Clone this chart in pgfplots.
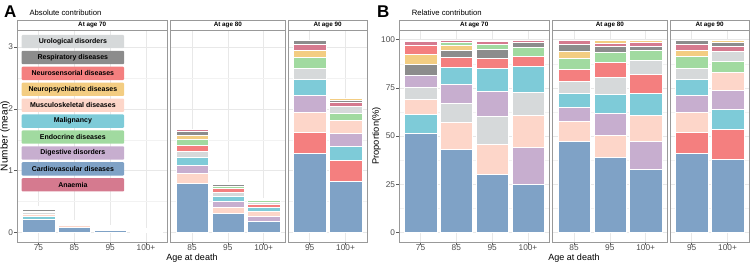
\documentclass[border=0pt]{standalone}
\usepackage{pgfplots}
\pgfplotsset{compat=1.18}
\usepackage{fontspec}
\setmainfont{Liberation Sans}

\definecolor{cAna}{HTML}{D57A8F}
\definecolor{cCar}{HTML}{7FA2C6}
\definecolor{cDig}{HTML}{C7AECF}
\definecolor{cEnd}{HTML}{A1DAA0}
\definecolor{cMal}{HTML}{7ECBD8}
\definecolor{cMus}{HTML}{FDD6C9}
\definecolor{cNps}{HTML}{F3CD82}
\definecolor{cNse}{HTML}{F47F7F}
\definecolor{cRes}{HTML}{8C8C8C}
\definecolor{cUro}{HTML}{D6D9DA}

% one stacked segment: x, cumulative top, colour (drawn from the top segment down)
\newcommand{\sg}[3]{\addplot[ybar, bar width=0.9, bar shift=0pt, fill=#3, draw=white, line width=0.2pt] coordinates {(#1,#2)};}
% same, for the very short bars (hairline outline)
\newcommand{\sgt}[3]{\addplot[ybar, bar width=0.9, bar shift=0pt, fill=#3, draw=white, line width=0.05pt] coordinates {(#1,#2)};}

\tikzset{
  leg/.style={minimum width=102.5pt, minimum height=13.3pt, inner sep=0pt, rounded corners=1pt,
    font=\bfseries\fontsize{7}{8}\selectfont, text=black},
  strip/.style={font=\bfseries\fontsize{6.3}{7}\selectfont},
}
\pgfplotsset{
  fac/.style={
    scale only axis, height=212pt, anchor=south west,
    axis line style={draw=black!40, line width=0.6pt},
    xmin=0.4,
    tick align=outside, major tick length=2.75pt, minor tick length=0pt,
    xtick pos=bottom, ytick pos=left,
    tick style={black!65, line width=0.45pt},
    grid=both,
    major grid style={black!9, line width=0.45pt},
    minor grid style={black!5, line width=0.25pt},
    ticklabel style={font=\fontsize{8.3}{9}\selectfont, text=black!70},
    xticklabel style={yshift=3.3pt},
    yticklabel style={xshift=2.3pt},
    /pgf/number format/assume math mode=true,
  },
  facA/.style={fac, ymin=-0.156, ymax=3.276, ytick={0,1,2,3}, minor ytick={0.5,1.5,2.5}},
  facB/.style={fac, ymin=-5, ymax=105, ytick={0,25,50,75,100}, minor ytick={12.5,37.5,62.5,87.5}},
  noy/.style={yticklabels={}, ytick style={draw=none}},
}

\begin{document}
\begin{tikzpicture}
\useasboundingbox (0,0) rectangle (750pt,263pt);

% ================= Panel A =================
\begin{axis}[facA, at={(17pt,21pt)}, width=150.5pt, xmax=4.6, xtick={1,2,3,4}, xticklabels={75,85,95,100+}]
\sgt{1}{0.430}{cEnd}
\sgt{1}{0.426}{cAna}
\sgt{1}{0.417}{cNse}
\sgt{1}{0.398}{cNps}
\sgt{1}{0.376}{cRes}
\sgt{1}{0.350}{cDig}
\sgt{1}{0.324}{cUro}
\sgt{1}{0.297}{cMus}
\sgt{1}{0.264}{cMal}
\sgt{1}{0.222}{cCar}
\sgt{2}{0.2000}{cAna}
\sgt{2}{0.1976}{cEnd}
\sgt{2}{0.1940}{cNps}
\sgt{2}{0.1896}{cRes}
\sgt{2}{0.1816}{cNse}
\sgt{2}{0.1720}{cMal}
\sgt{2}{0.1540}{cDig}
\sgt{2}{0.1344}{cUro}
\sgt{2}{0.1144}{cMus}
\sgt{2}{0.0866}{cCar}
\sgt{3}{0.1150}{cNps}
\sgt{3}{0.1142}{cAna}
\sgt{3}{0.1124}{cEnd}
\sgt{3}{0.1094}{cRes}
\sgt{3}{0.1041}{cNse}
\sgt{3}{0.0981}{cMal}
\sgt{3}{0.0841}{cDig}
\sgt{3}{0.0691}{cUro}
\sgt{3}{0.0528}{cMus}
\sgt{3}{0.0345}{cCar}
\sgt{4}{0.0750}{cAna}
\sgt{4}{0.0742}{cRes}
\sgt{4}{0.0722}{cEnd}
\sgt{4}{0.0688}{cNse}
\sgt{4}{0.0646}{cMal}
\sgt{4}{0.0546}{cUro}
\sgt{4}{0.0458}{cMus}
\sgt{4}{0.0332}{cDig}
\sgt{4}{0.0188}{cCar}
\node[leg, fill=cUro] at (axis cs:1.959,3.089) {Urological disorders};
\node[leg, fill=cRes] at (axis cs:1.959,2.831) {Respiratory diseases};
\node[leg, fill=cNse] at (axis cs:1.959,2.574) {Neurosensorial diseases};
\node[leg, fill=cNps] at (axis cs:1.959,2.316) {Neuropsychiatric diseases};
\node[leg, fill=cMus] at (axis cs:1.959,2.058) {Musculoskeletal diseases};
\node[leg, fill=cMal] at (axis cs:1.959,1.801) {Malignancy};
\node[leg, fill=cEnd] at (axis cs:1.959,1.543) {Endocrine diseases};
\node[leg, fill=cDig] at (axis cs:1.959,1.285) {Digestive disorders};
\node[leg, fill=cCar] at (axis cs:1.959,1.028) {Cardiovascular diseases};
\node[leg, fill=cAna] at (axis cs:1.959,0.770) {Anaemia};
\end{axis}

\begin{axis}[facA, noy, at={(170.5pt,21pt)}, width=114.7pt, xmax=3.6, xtick={1,2,3}, xticklabels={85,95,100+}]
\sg{1}{1.674}{cAna}
\sg{1}{1.634}{cRes}
\sg{1}{1.572}{cNps}
\sg{1}{1.512}{cEnd}
\sg{1}{1.420}{cNse}
\sg{1}{1.317}{cUro}
\sg{1}{1.212}{cMal}
\sg{1}{1.088}{cDig}
\sg{1}{0.966}{cMus}
\sg{1}{0.797}{cCar}
\sg{2}{0.810}{cNps}
\sg{2}{0.797}{cAna}
\sg{2}{0.781}{cRes}
\sg{2}{0.757}{cEnd}
\sg{2}{0.718}{cNse}
\sg{2}{0.654}{cUro}
\sg{2}{0.582}{cMal}
\sg{2}{0.502}{cDig}
\sg{2}{0.410}{cMus}
\sg{2}{0.314}{cCar}
\sg{3}{0.556}{cNps}
\sg{3}{0.549}{cAna}
\sg{3}{0.539}{cRes}
\sg{3}{0.525}{cEnd}
\sg{3}{0.498}{cUro}
\sg{3}{0.457}{cNse}
\sg{3}{0.402}{cMal}
\sg{3}{0.337}{cMus}
\sg{3}{0.262}{cDig}
\sg{3}{0.183}{cCar}
\end{axis}

\begin{axis}[facA, noy, at={(288.2pt,21pt)}, width=78.8pt, xmax=2.6, xtick={1,2}, xticklabels={95,100+}]
\sg{1}{3.120}{cRes}
\sg{1}{3.054}{cAna}
\sg{1}{2.945}{cNps}
\sg{1}{2.845}{cEnd}
\sg{1}{2.661}{cUro}
\sg{1}{2.477}{cMal}
\sg{1}{2.215}{cDig}
\sg{1}{1.941}{cMus}
\sg{1}{1.629}{cNse}
\sg{1}{1.276}{cCar}
\sg{2}{2.180}{cNps}
\sg{2}{2.149}{cRes}
\sg{2}{2.102}{cAna}
\sg{2}{2.051}{cUro}
\sg{2}{1.938}{cEnd}
\sg{2}{1.818}{cMus}
\sg{2}{1.604}{cDig}
\sg{2}{1.391}{cMal}
\sg{2}{1.164}{cNse}
\sg{2}{0.824}{cCar}
\end{axis}

% ================= Panel B =================
\begin{axis}[facB, at={(399pt,21pt)}, width=150.5pt, xmax=4.6, xtick={1,2,3,4}, xticklabels={75,85,95,100+}]
\sg{1}{100}{cEnd}
\sg{1}{99.1}{cAna}
\sg{1}{97.0}{cNse}
\sg{1}{92.6}{cNps}
\sg{1}{87.4}{cRes}
\sg{1}{81.4}{cDig}
\sg{1}{75.4}{cUro}
\sg{1}{69.0}{cMus}
\sg{1}{61.5}{cMal}
\sg{1}{51.6}{cCar}
\sg{2}{100}{cAna}
\sg{2}{98.8}{cEnd}
\sg{2}{97.0}{cNps}
\sg{2}{94.8}{cRes}
\sg{2}{90.8}{cNse}
\sg{2}{86.0}{cMal}
\sg{2}{77.0}{cDig}
\sg{2}{67.2}{cUro}
\sg{2}{57.2}{cMus}
\sg{2}{43.3}{cCar}
\sg{3}{100}{cNps}
\sg{3}{99.3}{cAna}
\sg{3}{97.7}{cEnd}
\sg{3}{95.1}{cRes}
\sg{3}{90.5}{cNse}
\sg{3}{85.3}{cMal}
\sg{3}{73.1}{cDig}
\sg{3}{60.1}{cUro}
\sg{3}{45.9}{cMus}
\sg{3}{30.0}{cCar}
\sg{4}{100}{cAna}
\sg{4}{98.9}{cRes}
\sg{4}{96.2}{cEnd}
\sg{4}{91.7}{cNse}
\sg{4}{86.1}{cMal}
\sg{4}{72.8}{cUro}
\sg{4}{61.0}{cMus}
\sg{4}{44.2}{cDig}
\sg{4}{25.0}{cCar}
\end{axis}

\begin{axis}[facB, noy, at={(552.5pt,21pt)}, width=114.7pt, xmax=3.6, xtick={1,2,3}, xticklabels={85,95,100+}]
\sg{1}{100}{cAna}
\sg{1}{97.6}{cRes}
\sg{1}{93.9}{cNps}
\sg{1}{90.3}{cEnd}
\sg{1}{84.8}{cNse}
\sg{1}{78.7}{cUro}
\sg{1}{72.4}{cMal}
\sg{1}{65.0}{cDig}
\sg{1}{57.7}{cMus}
\sg{1}{47.6}{cCar}
\sg{2}{100}{cNps}
\sg{2}{98.4}{cAna}
\sg{2}{96.4}{cRes}
\sg{2}{93.4}{cEnd}
\sg{2}{88.6}{cNse}
\sg{2}{80.8}{cUro}
\sg{2}{71.9}{cMal}
\sg{2}{62.0}{cDig}
\sg{2}{50.6}{cMus}
\sg{2}{38.8}{cCar}
\sg{3}{100}{cNps}
\sg{3}{98.8}{cAna}
\sg{3}{96.9}{cRes}
\sg{3}{94.4}{cEnd}
\sg{3}{89.6}{cUro}
\sg{3}{82.2}{cNse}
\sg{3}{72.3}{cMal}
\sg{3}{60.6}{cMus}
\sg{3}{47.1}{cDig}
\sg{3}{32.9}{cCar}
\end{axis}

\begin{axis}[facB, noy, at={(670.2pt,21pt)}, width=78.8pt, xmax=2.6, xtick={1,2}, xticklabels={95,100+}]
\sg{1}{100}{cRes}
\sg{1}{97.9}{cAna}
\sg{1}{94.4}{cNps}
\sg{1}{91.2}{cEnd}
\sg{1}{85.3}{cUro}
\sg{1}{79.4}{cMal}
\sg{1}{71.0}{cDig}
\sg{1}{62.2}{cMus}
\sg{1}{52.2}{cNse}
\sg{1}{40.9}{cCar}
\sg{2}{100}{cNps}
\sg{2}{98.6}{cRes}
\sg{2}{96.4}{cAna}
\sg{2}{94.1}{cUro}
\sg{2}{88.9}{cEnd}
\sg{2}{83.4}{cMus}
\sg{2}{73.6}{cDig}
\sg{2}{63.8}{cMal}
\sg{2}{53.4}{cNse}
\sg{2}{37.8}{cCar}
\end{axis}

% ================= strips =================
\foreach \xa/\w/\t in {17/150.5/At age 70, 170.5/114.7/At age 80, 288.2/78.8/At age 90,
                       399/150.5/At age 70, 552.5/114.7/At age 80, 670.2/78.8/At age 90}{
  \draw[black!40, line width=0.6pt, fill=white] (\xa pt,233pt) rectangle ({\xa pt+\w pt},243pt);
  \node[strip] at ({\xa pt+0.5*\w pt},238pt) {\t};
}

% ================= titles and labels =================
\node[anchor=base west, font=\bfseries\fontsize{17}{19}\selectfont, inner sep=0pt] at (4pt,245.7pt) {A};
\node[anchor=base west, font=\fontsize{7.7}{9}\selectfont, inner sep=0pt] at (29.3pt,247.5pt) {Absolute contribution};
\node[anchor=base west, font=\bfseries\fontsize{17}{19}\selectfont, inner sep=0pt] at (377pt,245.7pt) {B};
\node[anchor=base west, font=\fontsize{7.7}{9}\selectfont, inner sep=0pt] at (411.7pt,247.5pt) {Relative contribution};

\node[rotate=90, font=\fontsize{10}{12}\selectfont, inner sep=0pt] at (5pt,127pt) {Number (mean)};
\node[rotate=90, font=\fontsize{9.3}{11}\selectfont, inner sep=0pt] at (376.5pt,127pt) {Proportion(\%)};
\node[anchor=base, font=\fontsize{9}{10}\selectfont, inner sep=0pt] at (192pt,2.6pt) {Age at death};
\node[anchor=base, font=\fontsize{9}{10}\selectfont, inner sep=0pt] at (574pt,2.6pt) {Age at death};
\end{tikzpicture}
\end{document}
